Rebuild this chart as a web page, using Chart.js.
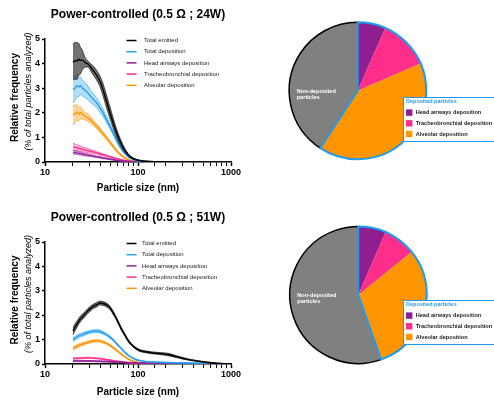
<!DOCTYPE html>
<html>
<head>
<meta charset="utf-8">
<script src="https://cdn.jsdelivr.net/npm/chart.js@4.4.1/dist/chart.umd.min.js"></script>
<style>
  html, body { margin: 0; padding: 0; background: #fff; }
  #wrap { position: relative; width: 494px; height: 400px; overflow: hidden; }
  canvas { position: absolute; }
</style>
</head>
<body>
<div id="wrap">
  <canvas id="line24" width="250" height="200" style="left:0;top:0"></canvas>
  <canvas id="pie24" width="244" height="200" style="left:250px;top:0"></canvas>
  <canvas id="line51" width="250" height="200" style="left:0;top:200px"></canvas>
  <canvas id="pie51" width="244" height="200" style="left:250px;top:200px"></canvas>
</div>
<script>
// particle sizes (nm)
const sizes = [20, 21, 22, 23, 24, 25, 27, 29, 31, 33, 36, 39, 42, 46, 50, 55, 60, 66, 72, 79, 87, 95, 105, 120, 140, 170, 210, 260, 330, 420, 540, 700, 850, 1000];

const seriesNames = ['Total emitted', 'Total deposition', 'Head airways deposition', 'Tracheobronchial deposition', 'Alveolar deposition'];
const lineColors = ['#000000', '#22a0f2', '#93209a', '#ff2e90', '#ff9500'];
const bandColors = ['rgba(60,60,60,0.72)', 'rgba(34,160,242,0.35)', 'rgba(147,32,154,0.3)', 'rgba(255,46,144,0.3)', 'rgba(255,149,0,0.4)'];

// 0.5 ohm ; 24 W  (mean and half band width)
const emitted24 = [4.05, 4.12, 4.1, 4.18, 4.12, 4.15, 4.05, 3.98, 3.85, 3.72, 3.52, 3.28, 2.95, 2.45, 2.0, 1.5, 1.1, 0.74, 0.48, 0.28, 0.16, 0.1, 0.06, 0.03, 0.02, 0.01, 0.01, 0, 0, 0, 0, 0, 0, 0];
const emitted24Err = [0.72, 0.75, 0.75, 0.65, 0.55, 0.42, 0.2, 0.12, 0.15, 0.18, 0.2, 0.22, 0.25, 0.26, 0.24, 0.2, 0.16, 0.12, 0.08, 0.05, 0.03, 0.02, 0.01, 0.01, 0, 0, 0, 0, 0, 0, 0, 0, 0, 0];
const total24 = [2.95, 3.0, 3.1, 3.05, 3.1, 3.02, 2.92, 2.8, 2.66, 2.55, 2.4, 2.2, 2.0, 1.72, 1.45, 1.13, 0.82, 0.55, 0.35, 0.21, 0.12, 0.07, 0.04, 0.02, 0.01, 0.01, 0, 0, 0, 0, 0, 0, 0, 0];
const total24Err = [0.55, 0.5, 0.45, 0.4, 0.35, 0.32, 0.3, 0.28, 0.25, 0.22, 0.2, 0.18, 0.15, 0.12, 0.1, 0.08, 0.06, 0.05, 0.03, 0.02, 0.01, 0.01, 0, 0, 0, 0, 0, 0, 0, 0, 0, 0, 0, 0];
const head24 = [0.4, 0.38, 0.37, 0.35, 0.34, 0.33, 0.3, 0.28, 0.26, 0.24, 0.21, 0.19, 0.16, 0.14, 0.11, 0.09, 0.06, 0.04, 0.03, 0.02, 0.01, 0, 0, 0, 0, 0, 0, 0, 0, 0, 0, 0, 0, 0];
const head24Err = [0.08, 0.07, 0.07, 0.06, 0.06, 0.06, 0.05, 0.05, 0.04, 0.04, 0.03, 0.03, 0.03, 0.02, 0.02, 0.02, 0.01, 0.01, 0, 0, 0, 0, 0, 0, 0, 0, 0, 0, 0, 0, 0, 0, 0, 0];
const tb24 = [0.62, 0.6, 0.58, 0.56, 0.54, 0.52, 0.49, 0.46, 0.43, 0.41, 0.37, 0.33, 0.3, 0.25, 0.21, 0.17, 0.13, 0.09, 0.06, 0.04, 0.02, 0.01, 0, 0, 0, 0, 0, 0, 0, 0, 0, 0, 0, 0];
const tb24Err = [0.14, 0.13, 0.12, 0.12, 0.11, 0.1, 0.09, 0.08, 0.07, 0.06, 0.05, 0.05, 0.04, 0.03, 0.03, 0.02, 0.02, 0.01, 0, 0, 0, 0, 0, 0, 0, 0, 0, 0, 0, 0, 0, 0, 0, 0];
const alv24 = [1.9, 1.95, 2.02, 1.95, 2.0, 1.95, 1.86, 1.8, 1.7, 1.6, 1.45, 1.3, 1.15, 0.97, 0.8, 0.6, 0.42, 0.28, 0.17, 0.09, 0.05, 0.03, 0.01, 0, 0, 0, 0, 0, 0, 0, 0, 0, 0, 0];
const alv24Err = [0.4, 0.36, 0.32, 0.28, 0.25, 0.2, 0.16, 0.15, 0.13, 0.12, 0.1, 0.1, 0.08, 0.08, 0.06, 0.05, 0.04, 0.03, 0.02, 0.01, 0, 0, 0, 0, 0, 0, 0, 0, 0, 0, 0, 0, 0, 0];

// 0.5 ohm ; 51 W
const emitted51 = [1.35, 1.5, 1.62, 1.75, 1.85, 1.92, 2.05, 2.18, 2.28, 2.36, 2.43, 2.5, 2.48, 2.42, 2.3, 2.05, 1.78, 1.45, 1.2, 0.94, 0.76, 0.64, 0.55, 0.5, 0.46, 0.43, 0.39, 0.3, 0.2, 0.13, 0.07, 0.03, 0.01, 0];
const emitted51Err = [0.15, 0.14, 0.13, 0.12, 0.12, 0.11, 0.1, 0.1, 0.1, 0.09, 0.09, 0.08, 0.08, 0.08, 0.07, 0.07, 0.06, 0.06, 0.05, 0.05, 0.04, 0.04, 0.04, 0.04, 0.04, 0.04, 0.05, 0.04, 0.03, 0.02, 0.02, 0.01, 0.01, 0];
const total51 = [1.0, 1.06, 1.1, 1.15, 1.18, 1.2, 1.25, 1.29, 1.32, 1.34, 1.35, 1.33, 1.28, 1.2, 1.1, 0.96, 0.8, 0.64, 0.48, 0.35, 0.25, 0.18, 0.14, 0.1, 0.08, 0.07, 0.06, 0.05, 0.04, 0.03, 0.02, 0.01, 0.01, 0];
const total51Err = [0.08, 0.08, 0.08, 0.07, 0.07, 0.07, 0.07, 0.06, 0.06, 0.06, 0.06, 0.06, 0.05, 0.05, 0.05, 0.04, 0.04, 0.03, 0.03, 0.02, 0.02, 0.02, 0.01, 0.01, 0.01, 0.01, 0.01, 0.01, 0, 0, 0, 0, 0, 0];
const head51 = [0.12, 0.12, 0.12, 0.12, 0.12, 0.12, 0.12, 0.12, 0.12, 0.12, 0.11, 0.11, 0.1, 0.1, 0.09, 0.08, 0.08, 0.07, 0.06, 0.06, 0.05, 0.05, 0.04, 0.04, 0.04, 0.03, 0.03, 0.03, 0.02, 0.02, 0.01, 0.01, 0.01, 0];
const head51Err = [0.02, 0.02, 0.02, 0.02, 0.02, 0.02, 0.02, 0.02, 0.02, 0.02, 0.02, 0.02, 0.02, 0.02, 0.02, 0.02, 0.01, 0.01, 0.01, 0.01, 0.01, 0.01, 0.01, 0.01, 0.01, 0.01, 0.01, 0.01, 0.01, 0.01, 0, 0, 0, 0];
const tb51 = [0.22, 0.23, 0.23, 0.24, 0.24, 0.24, 0.25, 0.25, 0.25, 0.24, 0.23, 0.22, 0.2, 0.18, 0.16, 0.13, 0.11, 0.09, 0.07, 0.05, 0.04, 0.03, 0.02, 0.02, 0.01, 0.01, 0, 0, 0, 0, 0, 0, 0, 0];
const tb51Err = [0.03, 0.03, 0.03, 0.03, 0.03, 0.03, 0.03, 0.03, 0.02, 0.02, 0.02, 0.02, 0.02, 0.02, 0.02, 0.01, 0.01, 0.01, 0.01, 0.01, 0, 0, 0, 0, 0, 0, 0, 0, 0, 0, 0, 0, 0, 0];
const alv51 = [0.63, 0.68, 0.72, 0.76, 0.79, 0.81, 0.85, 0.89, 0.92, 0.94, 0.95, 0.94, 0.9, 0.84, 0.76, 0.65, 0.53, 0.41, 0.3, 0.2, 0.13, 0.08, 0.05, 0.03, 0.02, 0.01, 0.01, 0, 0, 0, 0, 0, 0, 0];
const alv51Err = [0.07, 0.07, 0.06, 0.06, 0.06, 0.06, 0.05, 0.05, 0.05, 0.05, 0.05, 0.05, 0.05, 0.04, 0.04, 0.04, 0.03, 0.03, 0.02, 0.02, 0.01, 0.01, 0, 0, 0, 0, 0, 0, 0, 0, 0, 0, 0, 0];

// pies: % of particles
const pieLabels = ['Head airways deposition', 'Tracheobronchial deposition', 'Alveolar deposition', 'Non-deposited particles'];
const pie24 = [6.6, 11.9, 40.7, 40.8];
const pie51 = [6.5, 7.7, 30.4, 55.4];
const pieColors = ['#8f1f8f', '#ff2e8b', '#ff9500', '#808080'];
const depBlue = '#1e9bf0';

Chart.defaults.font.family = '"Liberation Sans", Arial, sans-serif';
Chart.defaults.color = '#000';

function bandSets(mean, err, i) {
  const pts = arr => arr.map((v, k) => ({ x: sizes[k], y: v }));
  const hi = mean.map((v, k) => v + err[k]);
  const lo = mean.map((v, k) => Math.max(v - err[k], 0));
  return [
    { data: pts(mean), borderColor: lineColors[i], borderWidth: 1.4, fill: false },
    { data: pts(hi), borderColor: lineColors[i], borderWidth: 0.6, fill: false },
    { data: pts(lo), borderColor: lineColors[i], borderWidth: 0.6, fill: '-1', backgroundColor: bandColors[i] }
  ];
}

const yTitle = {
  id: 'yTitle',
  afterDraw(chart) {
    const { ctx, chartArea } = chart;
    const cy = (chartArea.top + chartArea.bottom) / 2;
    ctx.save();
    ctx.fillStyle = '#000';
    ctx.textAlign = 'center';
    ctx.textBaseline = 'middle';
    ctx.translate(15.5, cy - 3);
    ctx.rotate(-Math.PI / 2);
    ctx.font = 'bold 10px "Liberation Sans"';
    ctx.fillText('Relative frequency', 0, 0);
    ctx.restore();
    ctx.save();
    ctx.fillStyle = '#000';
    ctx.textAlign = 'center';
    ctx.textBaseline = 'middle';
    ctx.translate(28, cy - 9);
    ctx.rotate(-Math.PI / 2);
    ctx.font = 'italic 9px "Liberation Sans"';
    ctx.fillText('(% of total particles analyzed)', 0, 0);
    ctx.restore();
  }
};

const seriesLegend = {
  id: 'seriesLegend',
  afterDraw(chart, args, opts) {
    const { ctx, chartArea } = chart;
    ctx.save();
    ctx.font = '6px "Liberation Sans"';
    ctx.textBaseline = 'middle';
    ctx.textAlign = 'left';
    seriesNames.forEach((name, i) => {
      const y = chartArea.top + 1.5 + i * 11.2;
      ctx.strokeStyle = lineColors[i];
      ctx.lineWidth = 1.5;
      ctx.beginPath();
      ctx.moveTo(126.5, y);
      ctx.lineTo(136.5, y);
      ctx.stroke();
      ctx.fillStyle = '#222';
      ctx.fillText(name, opts.textX, y);
    });
    ctx.restore();
  }
};

function makeLine(id, title, sets, lay) {
  return new Chart(document.getElementById(id), {
    type: 'line',
    data: { datasets: sets },
    options: {
      responsive: false,
      animation: false,
      layout: { padding: { left: 0, right: 19, top: 0, bottom: 0 } },
      elements: { point: { radius: 0 }, line: { tension: 0.3, cubicInterpolationMode: 'monotone' } },
      plugins: {
        legend: { display: false },
        tooltip: { enabled: false },
        title: {
          display: true, text: title, fullSize: false, color: '#000',
          font: { size: 12, weight: 'bold' },
          padding: { top: lay.titleY - 7.2, bottom: lay.top - lay.titleY - 7.2 }
        },
        seriesLegend: { textX: lay.legendX }
      },
      scales: {
        x: {
          type: 'logarithmic', min: 10, max: 1000,
          border: { color: '#000', width: 1.5 },
          grid: {
            drawOnChartArea: false, tickLength: 4, tickColor: '#000',
            tickWidth: c => {
              const l = Math.log10(c.tick.value);
              return Math.abs(l - Math.round(l)) < 1e-6 ? 1.5 : 1;
            }
          },
          ticks: {
            autoSkip: false, maxRotation: 0, padding: 1, color: '#000',
            font: { size: 9, weight: 'bold' },
            callback: v => {
              const l = Math.log10(v);
              return Math.abs(l - Math.round(l)) < 1e-6 ? String(Math.round(v)) : '';
            }
          },
          title: {
            display: true, text: 'Particle size (nm)', color: '#000',
            font: { size: 10, weight: 'bold' },
            padding: { top: 0, bottom: lay.xTitlePad }
          },
          afterFit: s => { s.height = 200 - lay.bottom; }
        },
        y: {
          min: 0, max: 5,
          border: { color: '#000', width: 1.5 },
          grid: { drawOnChartArea: false, tickLength: 3, tickColor: '#000', tickWidth: 1.5 },
          ticks: { stepSize: 1, padding: 2, color: '#000', font: { size: 9, weight: 'bold' } },
          afterFit: s => { s.width = 45; }
        }
      }
    },
    plugins: [yTitle, seriesLegend]
  });
}

const pieDecor = {
  id: 'pieDecor',
  afterDatasetsDraw(chart, args, opts) {
    const { ctx } = chart;
    const arcs = chart.getDatasetMeta(0).data;
    const first = arcs[0], alv = arcs[2], grey = arcs[3];
    const cx = first.x, cy = first.y, r = first.outerRadius;
    ctx.save();
    ctx.strokeStyle = '#000';
    ctx.lineWidth = 1.5;
    ctx.beginPath();
    ctx.arc(cx, cy, r, grey.startAngle, grey.endAngle);
    ctx.stroke();
    ctx.strokeStyle = depBlue;
    ctx.lineWidth = 2;
    ctx.lineJoin = 'round';
    ctx.beginPath();
    ctx.moveTo(cx, cy);
    ctx.arc(cx, cy, r, first.startAngle, alv.endAngle);
    ctx.closePath();
    ctx.stroke();

    // label on grey slice
    ctx.fillStyle = '#fff';
    ctx.font = 'bold 5.6px "Liberation Sans"';
    ctx.textBaseline = 'middle';
    ctx.textAlign = 'left';
    ctx.fillText('Non-deposited', cx - 61, cy + 0.3);
    ctx.fillText('particles', cx - 61, cy + 6.6);

    // deposited legend box
    const bx = 153, by = opts.boxTop;
    ctx.fillStyle = '#fff';
    ctx.fillRect(bx, by, chart.width - bx + 5, 45);
    ctx.strokeStyle = depBlue;
    ctx.lineWidth = 1;
    ctx.strokeRect(bx + 0.5, by + 0.5, chart.width, 44);
    ctx.fillStyle = depBlue;
    ctx.font = 'bold 5.5px "Liberation Sans"';
    ctx.fillText('Deposited particles', bx + 3, by + 4.7);
    ctx.font = 'bold 5.6px "Liberation Sans"';
    for (let i = 0; i < 3; i++) {
      const y = by + 15.6 + i * 10.7;
      ctx.fillStyle = pieColors[i];
      ctx.fillRect(bx + 3, y - 3.2, 6.4, 6.4);
      ctx.fillStyle = '#222';
      ctx.fillText(pieLabels[i], bx + 12.7, y);
    }
    ctx.restore();
  }
};

function makePie(id, values, lay) {
  const r = 68.5;
  return new Chart(document.getElementById(id), {
    type: 'pie',
    data: { labels: pieLabels, datasets: [{ data: values, backgroundColor: pieColors, borderWidth: 0 }] },
    options: {
      responsive: false,
      animation: false,
      layout: { padding: { left: lay.cx - r, right: 244 - lay.cx - r, top: lay.cy - r, bottom: 200 - lay.cy - r } },
      plugins: {
        legend: { display: false },
        tooltip: { enabled: false },
        pieDecor: { boxTop: lay.boxTop }
      }
    },
    plugins: [pieDecor]
  });
}

makeLine('line24', 'Power-controlled (0.5 \u03A9 ; 24W)', [
  ...bandSets(emitted24, emitted24Err, 0),
  ...bandSets(total24, total24Err, 1),
  ...bandSets(head24, head24Err, 2),
  ...bandSets(tb24, tb24Err, 3),
  ...bandSets(alv24, alv24Err, 4)
], { titleY: 15, top: 39, bottom: 162, xTitlePad: 5.7, legendX: 144 });

makeLine('line51', 'Power-controlled (0.5 \u03A9 ; 51W)', [
  ...bandSets(emitted51, emitted51Err, 0),
  ...bandSets(total51, total51Err, 1),
  ...bandSets(head51, head51Err, 2),
  ...bandSets(tb51, tb51Err, 3),
  ...bandSets(alv51, alv51Err, 4)
], { titleY: 18, top: 42, bottom: 164, xTitlePad: 1.7, legendX: 142 });

makePie('pie24', pie24, { cx: 107.7, cy: 90.7, boxTop: 97 });
makePie('pie51', pie51, { cx: 108.3, cy: 95, boxTop: 100 });
</script>
</body>
</html>
